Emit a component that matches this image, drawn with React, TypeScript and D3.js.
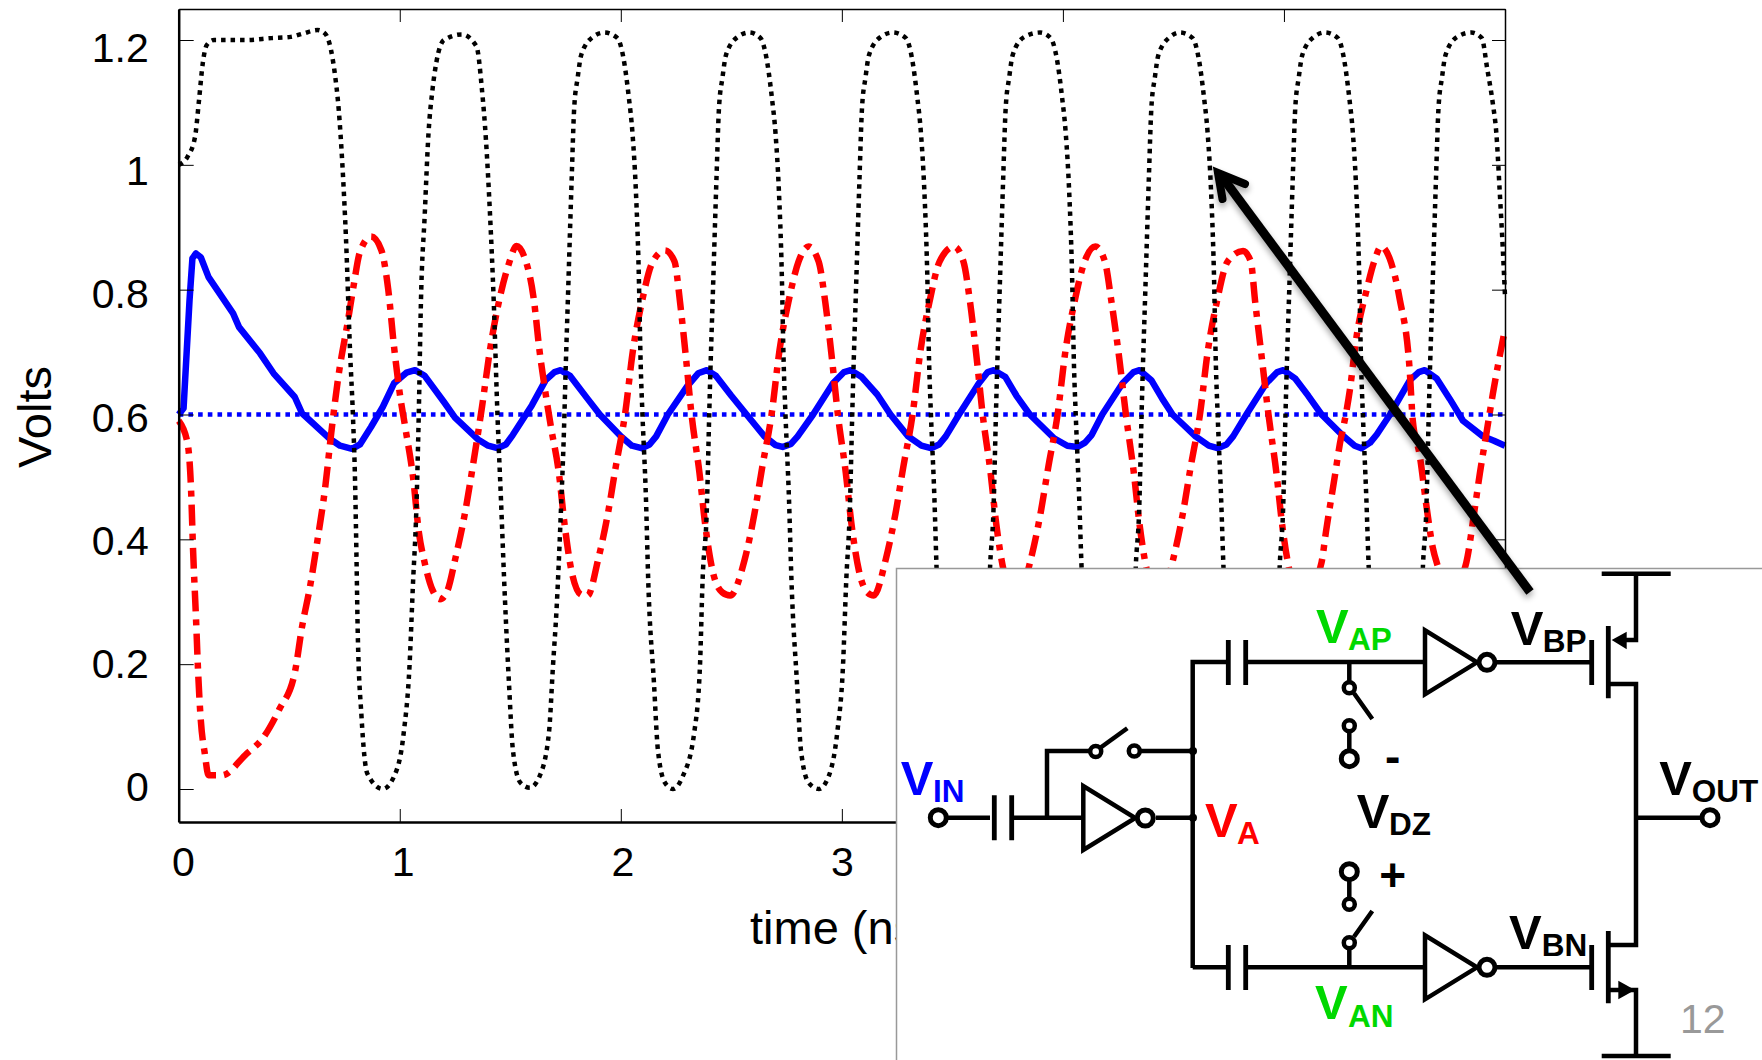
import * as d3 from 'd3'
import React, { useRef, useEffect } from 'react'

type Pt = [number, number]

// x = time in ns, y = volts
const xTicks = [0, 1, 2, 3, 4, 5, 6]
const yTicks = [0, 0.2, 0.4, 0.6, 0.8, 1, 1.2]

const vdz: Pt[] = [[0, 0.6], [6, 0.6]]

const vbp: Pt[] = [
  [0, 1], [0.04, 1.013], [0.074, 1.045], [0.092, 1.104], [0.109, 1.163], [0.127, 1.192], [0.16, 1.2], [0.3, 1.2], [0.42, 1.203], [0.507, 1.205], [0.56, 1.21], [0.628, 1.216], [0.663, 1.21], [0.689, 1.184], [0.706, 1.147], [0.724, 1.088], [0.741, 0.997], [0.757, 0.88], [0.775, 0.703], [0.788, 0.6], [0.798, 0.49], [0.805, 0.356], [0.81, 0.25], [0.827, 0.116], [0.853, 0.025], [0.923, 0], [0.974, 0.02], [1.018, 0.09], [1.044, 0.196], [1.06, 0.33], [1.075, 0.447], [1.086, 0.6],
  [1.096, 0.783], [1.113, 0.92], [1.13, 1.05], [1.148, 1.12], [1.166, 1.165], [1.2, 1.2], [1.281, 1.209], [1.347, 1.19], [1.372, 1.12], [1.39, 1.04], [1.408, 0.923], [1.425, 0.783], [1.442, 0.6], [1.458, 0.463], [1.476, 0.303], [1.494, 0.17], [1.512, 0.062], [1.546, 0.01], [1.589, 0.002], [1.632, 0.02], [1.675, 0.09], [1.693, 0.196], [1.71, 0.292], [1.728, 0.436], [1.745, 0.6],
  [1.748, 0.64], [1.762, 0.8], [1.778, 0.98], [1.789, 1.09], [1.805, 1.14], [1.821, 1.176], [1.874, 1.205], [1.925, 1.212], [1.985, 1.203], [2.011, 1.173], [2.036, 1.109], [2.053, 1.05], [2.068, 0.96], [2.081, 0.83], [2.09, 0.68], [2.098, 0.6], [2.114, 0.463], [2.124, 0.335], [2.15, 0.17], [2.168, 0.062], [2.2, 0.01], [2.236, 0], [2.28, 0.02], [2.332, 0.09], [2.358, 0.196], [2.37, 0.335], [2.389, 0.447], [2.4, 0.6],
  [2.403, 0.64], [2.417, 0.8], [2.433, 0.98], [2.444, 1.09], [2.46, 1.14], [2.476, 1.176], [2.529, 1.205], [2.581, 1.212], [2.632, 1.203], [2.658, 1.173], [2.683, 1.109], [2.7, 1.05], [2.715, 0.96], [2.728, 0.83], [2.737, 0.68], [2.745, 0.6], [2.761, 0.463], [2.772, 0.335], [2.797, 0.17], [2.815, 0.062], [2.85, 0.01], [2.896, 0], [2.94, 0.02], [2.979, 0.09], [3.005, 0.196], [3.02, 0.335], [3.036, 0.447], [3.047, 0.6],
  [3.05, 0.64], [3.064, 0.8], [3.08, 0.98], [3.091, 1.09], [3.107, 1.14], [3.123, 1.176], [3.176, 1.205], [3.23, 1.212], [3.29, 1.203], [3.316, 1.173], [3.341, 1.109], [3.358, 1.05], [3.373, 0.96], [3.386, 0.83], [3.395, 0.68], [3.403, 0.6], [3.419, 0.463], [3.428, 0.359], [3.455, 0.17], [3.473, 0.062], [3.507, 0.01], [3.55, 0], [3.593, 0.02], [3.629, 0.09], [3.655, 0.196], [3.671, 0.359], [3.686, 0.447], [3.697, 0.6],
  [3.7, 0.64], [3.714, 0.8], [3.73, 0.98], [3.741, 1.09], [3.757, 1.14], [3.773, 1.176], [3.826, 1.205], [3.897, 1.212], [3.945, 1.203], [3.971, 1.173], [3.996, 1.109], [4.013, 1.05], [4.028, 0.96], [4.041, 0.83], [4.05, 0.68], [4.058, 0.6], [4.074, 0.463], [4.084, 0.359], [4.11, 0.17], [4.128, 0.062], [4.162, 0.01], [4.205, 0], [4.248, 0.02], [4.288, 0.09], [4.314, 0.196], [4.33, 0.359], [4.345, 0.447], [4.356, 0.6],
  [4.359, 0.64], [4.373, 0.8], [4.389, 0.98], [4.4, 1.09], [4.416, 1.14], [4.432, 1.176], [4.485, 1.205], [4.53, 1.212], [4.587, 1.203], [4.613, 1.173], [4.638, 1.109], [4.655, 1.05], [4.67, 0.96], [4.683, 0.83], [4.692, 0.68], [4.7, 0.6], [4.716, 0.463], [4.726, 0.359], [4.752, 0.17], [4.77, 0.062], [4.804, 0.01], [4.847, 0], [4.89, 0.02], [4.939, 0.09], [4.965, 0.196], [4.981, 0.359], [4.996, 0.447], [5.007, 0.6],
  [5.01, 0.64], [5.024, 0.8], [5.04, 0.98], [5.051, 1.09], [5.067, 1.14], [5.083, 1.176], [5.136, 1.205], [5.185, 1.212], [5.244, 1.203], [5.27, 1.173], [5.295, 1.109], [5.312, 1.05], [5.327, 0.96], [5.34, 0.83], [5.349, 0.68], [5.357, 0.6], [5.373, 0.463], [5.383, 0.359], [5.409, 0.17], [5.427, 0.062], [5.461, 0.01], [5.504, 0], [5.547, 0.02], [5.587, 0.09], [5.613, 0.196], [5.629, 0.359], [5.644, 0.447], [5.655, 0.6],
  [5.658, 0.64], [5.672, 0.8], [5.688, 0.98], [5.699, 1.09], [5.715, 1.14], [5.731, 1.176], [5.784, 1.205], [5.848, 1.212], [5.895, 1.203], [5.92, 1.153], [5.945, 1.098], [5.961, 1.05], [5.976, 0.958], [5.99, 0.866], [6, 0.79],
]

const va: Pt[] = [
  [0, 0.59], [0.04, 0.554], [0.056, 0.479], [0.065, 0.383], [0.078, 0.276], [0.088, 0.186], [0.1, 0.11], [0.118, 0.057], [0.135, 0.022], [0.196, 0.022], [0.3, 0.054], [0.386, 0.084], [0.454, 0.127], [0.525, 0.186], [0.558, 0.26], [0.594, 0.324], [0.628, 0.399], [0.663, 0.484], [0.69, 0.57], [0.722, 0.66], [0.766, 0.751], [0.793, 0.81], [0.818, 0.858], [0.87, 0.885], [0.916, 0.864], [0.948, 0.8], [0.974, 0.709], [1, 0.634], [1.027, 0.575], [1.06, 0.5], [1.087, 0.41], [1.113, 0.362], [1.148, 0.319], [1.182, 0.304],
  [1.217, 0.319], [1.25, 0.367], [1.295, 0.442], [1.33, 0.516], [1.372, 0.612], [1.408, 0.703], [1.45, 0.783], [1.494, 0.842], [1.528, 0.87], [1.563, 0.853], [1.607, 0.783], [1.632, 0.703], [1.657, 0.64], [1.684, 0.58], [1.72, 0.506], [1.745, 0.426], [1.779, 0.346], [1.823, 0.311], [1.85, 0.31],
  [1.897, 0.367], [1.942, 0.442], [1.977, 0.516], [2.019, 0.6], [2.055, 0.703], [2.097, 0.783], [2.141, 0.842], [2.2, 0.863], [2.243, 0.845], [2.268, 0.78], [2.295, 0.69], [2.32, 0.6], [2.356, 0.506], [2.381, 0.426], [2.415, 0.35], [2.459, 0.315], [2.495, 0.31],
  [2.56, 0.367], [2.605, 0.442], [2.64, 0.516], [2.682, 0.6], [2.718, 0.703], [2.76, 0.783], [2.804, 0.845], [2.849, 0.869], [2.895, 0.845], [2.925, 0.78], [2.955, 0.69], [2.982, 0.6], [3.018, 0.506], [3.043, 0.426], [3.077, 0.35], [3.115, 0.315], [3.145, 0.31],
  [3.198, 0.367], [3.243, 0.442], [3.278, 0.516], [3.32, 0.6], [3.356, 0.703], [3.398, 0.783], [3.442, 0.845], [3.508, 0.869], [3.55, 0.845], [3.58, 0.78], [3.61, 0.69], [3.637, 0.6], [3.673, 0.506], [3.698, 0.426], [3.732, 0.35], [3.77, 0.315], [3.8, 0.31],
  [3.854, 0.367], [3.899, 0.442], [3.934, 0.516], [3.976, 0.6], [4.012, 0.703], [4.054, 0.783], [4.098, 0.845], [4.147, 0.869], [4.19, 0.845], [4.22, 0.78], [4.255, 0.69], [4.285, 0.6], [4.321, 0.506], [4.346, 0.426], [4.38, 0.35], [4.42, 0.315], [4.45, 0.31],
  [4.498, 0.367], [4.543, 0.442], [4.578, 0.516], [4.62, 0.6], [4.656, 0.703], [4.698, 0.783], [4.745, 0.845], [4.815, 0.862], [4.85, 0.845], [4.87, 0.78], [4.9, 0.69], [4.93, 0.6], [4.966, 0.506], [4.991, 0.426], [5.025, 0.35], [5.065, 0.315], [5.1, 0.31],
  [5.17, 0.363], [5.19, 0.412], [5.231, 0.503], [5.253, 0.553], [5.28, 0.6], [5.298, 0.639], [5.328, 0.724], [5.373, 0.798], [5.41, 0.847], [5.44, 0.869], [5.478, 0.85], [5.523, 0.786], [5.569, 0.67], [5.583, 0.59], [5.614, 0.535], [5.644, 0.455], [5.673, 0.387], [5.696, 0.357], [5.75, 0.31], [5.825, 0.363], [5.863, 0.449], [5.886, 0.505], [5.916, 0.57], [5.945, 0.633], [6, 0.737],
]

const vin: Pt[] = [
  [0, 0.6], [0.022, 0.61], [0.049, 0.783], [0.062, 0.85], [0.078, 0.858], [0.1, 0.852], [0.135, 0.82], [0.246, 0.762], [0.273, 0.74], [0.368, 0.698], [0.429, 0.666], [0.525, 0.628], [0.558, 0.602], [0.68, 0.562], [0.73, 0.55], [0.784, 0.545], [0.82, 0.552], [0.87, 0.58], [0.923, 0.612], [0.974, 0.65], [1.03, 0.667], [1.069, 0.671], [1.113, 0.662], [1.2, 0.62], [1.25, 0.595], [1.354, 0.56], [1.4, 0.55], [1.442, 0.546], [1.48, 0.552], [1.511, 0.567], [1.598, 0.615], [1.66, 0.655], [1.7, 0.668],
  [1.728, 0.671], [1.77, 0.662], [1.85, 0.625], [1.905, 0.6], [2, 0.565], [2.05, 0.55], [2.094, 0.546], [2.13, 0.552], [2.16, 0.565], [2.213, 0.6], [2.3, 0.645], [2.35, 0.666], [2.39, 0.671], [2.43, 0.662], [2.5, 0.63], [2.569, 0.6], [2.65, 0.565], [2.7, 0.551], [2.732, 0.548], [2.77, 0.553], [2.8, 0.565], [2.87, 0.6], [2.96, 0.65], [3.01, 0.668], [3.04, 0.671], [3.09, 0.66], [3.16, 0.632], [3.22, 0.6], [3.3, 0.565], [3.36, 0.55], [3.403, 0.546], [3.44, 0.552], [3.47, 0.565], [3.53, 0.6], [3.62, 0.65],
  [3.66, 0.668], [3.688, 0.671], [3.74, 0.66], [3.79, 0.63], [3.85, 0.6], [3.96, 0.562], [4.02, 0.55], [4.066, 0.548], [4.1, 0.555], [4.13, 0.567], [4.178, 0.6], [4.27, 0.65], [4.32, 0.668], [4.347, 0.671], [4.4, 0.655], [4.45, 0.625], [4.496, 0.6], [4.6, 0.565], [4.66, 0.55], [4.7, 0.546], [4.74, 0.552], [4.77, 0.565], [4.83, 0.6], [4.92, 0.65], [4.97, 0.668], [4.997, 0.671], [5.05, 0.658], [5.11, 0.63], [5.17, 0.6], [5.27, 0.565], [5.32, 0.55], [5.35, 0.546], [5.39, 0.555], [5.42, 0.568], [5.48, 0.6], [5.57, 0.655], [5.61, 0.668], [5.637, 0.671], [5.69, 0.658], [5.75, 0.625], [5.81, 0.59], [5.9, 0.565], [5.95, 0.558], [6, 0.55],
]

const FONT = '"Liberation Sans", Arial, sans-serif'

const frame = { left: 178.7, right: 1505, top: 9, bottom: 822 }

const x = d3.scaleLinear().domain([0, 6]).range([frame.left, frame.right])
const y = d3.scaleLinear().domain([0, 1.2]).range([789, 40])

// the tick labels in the original sit on a slightly tighter grid than the ticks
const labelX = d3.scaleLinear().domain([0, 3]).range([183, 842])
const labelY = d3.scaleLinear().domain([0, 1.2]).range([785.5, 47.2])

const curved = d3
  .line<Pt>()
  .x(d => x(d[0]))
  .y(d => y(d[1]))
  .curve(d3.curveMonotoneX)

const straight = d3
  .line<Pt>()
  .x(d => x(d[0]))
  .y(d => y(d[1]))

// circuit labels: big V plus subscript
const labels = [
  { sub: 'IN', color: '#0000ff', vx: 900.7, vy: 795, sx: 933, sy: 801.5 },
  { sub: 'A', color: '#ff0000', vx: 1205, vy: 836.7, sx: 1237, sy: 843.5 },
  { sub: 'AP', color: '#00d800', vx: 1316, vy: 642.7, sx: 1348, sy: 650 },
  { sub: 'AN', color: '#00d800', vx: 1315, vy: 1019, sx: 1348, sy: 1026.7 },
  { sub: 'DZ', color: '#000', vx: 1356.7, vy: 828, sx: 1389, sy: 835 },
  { sub: 'BP', color: '#000', vx: 1510.7, vy: 645, sx: 1542.7, sy: 651.7 },
  { sub: 'BN', color: '#000', vx: 1509, vy: 949, sx: 1541.7, sy: 956 },
  { sub: 'OUT', color: '#000', vx: 1659.3, vy: 795, sx: 1691.7, sy: 801.7 },
]

const Wire = ({ d, w = 4.5 }: { d: string; w?: number }) => (
  <path d={d} fill="none" stroke="#000" strokeWidth={w} />
)

const Node = ({ cx, cy, r }: { cx: number; cy: number; r: number }) => (
  <circle cx={cx} cy={cy} r={r} fill="#fff" stroke="#000" strokeWidth={r > 6 ? 5 : 4.5} />
)

const Inverter = ({ left, cy }: { left: number; cy: number }) => (
  <g>
    <path d={`M${left},${cy - 32}L${left},${cy + 32}L${left + 52},${cy}Z`} fill="#fff" stroke="#000" strokeWidth={4.5} />
    <Node cx={left + 62} cy={cy} r={8} />
  </g>
)

const Cap = ({ cx, cy }: { cx: number; cy: number }) => (
  <path d={`M${cx - 8.7},${cy - 22.5}V${cy + 22.5}M${cx + 8.7},${cy - 22.5}V${cy + 22.5}`} stroke="#000" strokeWidth={4.8} fill="none" />
)

const Circuit = () => (
  <g>
    <rect x={896.5} y={568.5} width={880} height={500} fill="#fff" stroke="#999" strokeWidth={1.5} />
    <Wire d="M948,817.7H990M1013,817.7H1082M1047,817.7V751H1090M1141,751H1193M1156,817.7H1193" />
    <Wire d="M1192.7,968V662H1226M1247,662H1425M1192.7,967.3H1226M1247,967.3H1425" />
    <Cap cx={1003} cy={817.7} />
    <Cap cx={1237} cy={662.5} />
    <Cap cx={1237} cy={967.5} />
    <circle cx={1193} cy={751} r={4} />
    <circle cx={1193} cy={817.7} r={4} />
    <Node cx={938.3} cy={817.7} r={8} />
    <Node cx={1095.7} cy={751.5} r={5.5} />
    <Node cx={1134.3} cy={751} r={5.5} />
    <Wire d="M1100,748L1127.3,728.3" />
    <Inverter left={1083.3} cy={818} />

    <Wire d="M1349.3,662V682M1354,693.3L1372.3,719M1349.3,731V752" />
    <Node cx={1349.3} cy={687.7} r={5.5} />
    <Node cx={1349.3} cy={725.7} r={5.5} />
    <Node cx={1349.3} cy={758.7} r={8} />
    <Wire d="M1349.3,878V899M1354,936.7L1372.3,911M1349.3,948V967" />
    <Node cx={1349.3} cy={871.7} r={8} />
    <Node cx={1349.3} cy={904.3} r={5.5} />
    <Node cx={1349.3} cy={942.7} r={5.5} />

    <Inverter left={1425} cy={662.3} />
    <Inverter left={1425} cy={967.3} />
    <Wire d="M1496.7,662.3H1592M1496.7,967.3H1592" />
    <Wire d="M1591.7,640V685M1591.7,945V990M1608.3,626V698.3M1608.3,931V1003.3" w={4.8} />
    <Wire d="M1601.7,573.7H1670.7M1601.7,1056H1670.7" />
    <Wire d="M1636,573.7V640H1620M1610,684H1636V945H1610M1610,990H1636V1056M1636,817.7H1702" />
    <path d="M1611.7,640L1626.7,631.7V649.3Z" />
    <path d="M1635,990L1618.3,980.7V999.3Z" />
    <Node cx={1710} cy={817.7} r={8} />

    {labels.map(l => (
      <g key={l.sub} fontFamily={FONT} fontWeight="bold" fill={l.color}>
        <text x={l.vx} y={l.vy} fontSize={49}>V</text>
        <text x={l.sx} y={l.sy} fontSize={31.5}>{l.sub}</text>
      </g>
    ))}
    <text x={1392.7} y={772} fontFamily={FONT} fontWeight="bold" fontSize={46} textAnchor="middle">-</text>
    <text x={1392.7} y={891} fontFamily={FONT} fontWeight="bold" fontSize={46} textAnchor="middle">+</text>
    <text x={1680} y={1033} fontFamily={FONT} fontSize={41} fill="#999">12</text>
  </g>
)

export default function App() {
  const leftRef = useRef<SVGGElement>(null)
  const rightRef = useRef<SVGGElement>(null)
  const topRef = useRef<SVGGElement>(null)
  const bottomRef = useRef<SVGGElement>(null)

  useEffect(() => {
    const yFull = y.copy().domain([y.invert(frame.bottom), y.invert(frame.top)]).range([frame.bottom, frame.top])

    d3.select(leftRef.current!)
      .call(d3.axisLeft(yFull).tickValues(yTicks).tickSize(-15).tickSizeOuter(0).tickPadding(30).tickFormat(d => String(d)))
    d3.select(rightRef.current!)
      .call(d3.axisRight(yFull).tickValues(yTicks).tickSize(-13).tickSizeOuter(0).tickFormat(() => ''))
    d3.select(topRef.current!)
      .call(d3.axisTop(x).tickValues(xTicks).tickSize(-13).tickSizeOuter(0).tickFormat(() => ''))
    d3.select(bottomRef.current!)
      .call(d3.axisBottom(x).tickValues(xTicks).tickSize(-13).tickSizeOuter(0).tickPadding(25).tickFormat(d => String(d)))

    d3.select(leftRef.current!).selectAll<SVGTextElement, number>('text')
      .attr('dy', '0.358em')
      .attr('y', d => labelY(d) - yFull(d))
    d3.select(bottomRef.current!).selectAll<SVGTextElement, number>('text')
      .attr('x', d => labelX(d) - x(d))

    const axes = [leftRef, rightRef, topRef, bottomRef]
    axes.forEach(r => {
      const g = d3.select(r.current!)
      g.attr('font-family', FONT).attr('font-size', 41)
      g.selectAll('text').attr('fill', '#000')
      g.selectAll('.domain').attr('stroke-width', r === topRef || r === rightRef ? 1.5 : 2.5)
    })
  }, [])

  return (
    <svg width={1762} height={1060} style={{ position: 'fixed', left: 0, top: 0, background: '#fff' }}>
      <defs>
        <filter id="arrowShadow" x="-10%" y="-10%" width="120%" height="120%">
          <feGaussianBlur in="SourceAlpha" stdDeviation="3" />
          <feOffset dx="0" dy="4" />
          <feComponentTransfer><feFuncA type="linear" slope="0.35" /></feComponentTransfer>
          <feMerge>
            <feMergeNode />
            <feMergeNode in="SourceGraphic" />
          </feMerge>
        </filter>
      </defs>

      <path d={straight(vdz)!} fill="none" stroke="#0000ff" strokeWidth={4.3} strokeDasharray="4.6 5.1" />
      <path d={straight(vin)!} fill="none" stroke="#0000ff" strokeWidth={6.5} strokeLinejoin="round" />
      <path d={curved(va)!} fill="none" stroke="#ff0000" strokeWidth={6.5} strokeDasharray="21 8 6 8" />
      <path d={curved(vbp)!} fill="none" stroke="#000" strokeWidth={4.5} strokeDasharray="4.5 5" />

      <g ref={leftRef} transform={`translate(${frame.left},0)`} />
      <g ref={rightRef} transform={`translate(${frame.right},0)`} />
      <g ref={topRef} transform={`translate(0,${frame.top})`} />
      <g ref={bottomRef} transform={`translate(0,${frame.bottom})`} />

      <text transform="translate(51,417) rotate(-90)" textAnchor="middle" fontFamily={FONT} fontSize={47}>Volts</text>
      <text x={750} y={944} fontFamily={FONT} fontSize={47}>time (ns)</text>

      <Circuit />

      <g filter="url(#arrowShadow)" fill="none" stroke="#000" strokeWidth={8} strokeLinecap="butt">
        <path d="M1530,592L1220,174" strokeWidth={9} />
        <path d="M1245,184L1218,173L1222.5,199" strokeLinecap="round" strokeLinejoin="miter" />
      </g>
    </svg>
  )
}
